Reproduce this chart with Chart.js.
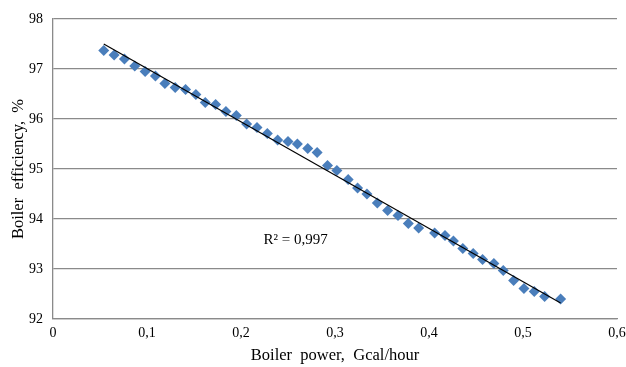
<!DOCTYPE html>
<html>
<head>
<meta charset="utf-8">
<script src="https://cdn.jsdelivr.net/npm/chart.js@4"></script>
<style>
  html, body { margin: 0; padding: 0; background: #fff; }
  #wrap { width: 626px; height: 367px; }
</style>
</head>
<body>
<div id="wrap"><canvas id="chart"></canvas></div>
<script>
// boiler power, Gcal/hour
const power = [0.054, 0.065, 0.076, 0.087, 0.098, 0.109, 0.119, 0.130, 0.141, 0.152,
  0.162, 0.173, 0.184, 0.195, 0.206, 0.217, 0.228, 0.239, 0.250, 0.260,
  0.271, 0.281, 0.292, 0.302, 0.314, 0.324, 0.334, 0.345, 0.356, 0.367,
  0.378, 0.389, 0.406, 0.417, 0.426, 0.436, 0.447, 0.457, 0.469, 0.479,
  0.490, 0.501, 0.512, 0.523, 0.540];
// boiler efficiency, %
const efficiency = [97.37, 97.28, 97.20, 97.06, 96.95, 96.86, 96.71, 96.63, 96.59, 96.49,
  96.33, 96.29, 96.15, 96.07, 95.90, 95.83, 95.71, 95.58, 95.55, 95.50,
  95.41, 95.33, 95.07, 94.97, 94.79, 94.62, 94.50, 94.32, 94.17, 94.07,
  93.91, 93.82, 93.72, 93.67, 93.56, 93.41, 93.31, 93.19, 93.11, 92.97,
  92.77, 92.61, 92.55, 92.45, 92.40];
const xTicks = [0, 0.1, 0.2, 0.3, 0.4, 0.5, 0.6];
const yTicks = [92, 93, 94, 95, 96, 97, 98];
const r2Label = 'R² = 0,997';

const points = power.map((p, i) => ({ x: p, y: efficiency[i] }));

// linear trend line (least squares)
const n = power.length;
const mx = power.reduce((a, b) => a + b, 0) / n;
const my = efficiency.reduce((a, b) => a + b, 0) / n;
let sxy = 0, sxx = 0;
for (let i = 0; i < n; i++) {
  sxy += (power[i] - mx) * (efficiency[i] - my);
  sxx += (power[i] - mx) ** 2;
}
const slope = sxy / sxx;
const icpt = my - slope * mx;
const xmin = Math.min(...power), xmax = Math.max(...power);
const trend = [
  { x: xmin, y: icpt + slope * xmin },
  { x: xmax, y: icpt + slope * xmax }
];

const serif = "'Liberation Serif', 'Times New Roman', serif";

const r2Plugin = {
  id: 'r2',
  afterDatasetsDraw(chart) {
    const { ctx, scales } = chart;
    ctx.save();
    ctx.font = '15px ' + serif;
    ctx.fillStyle = '#000';
    ctx.textAlign = 'center';
    ctx.textBaseline = 'middle';
    ctx.fillText(r2Label, scales.x.getPixelForValue(0.258), scales.y.getPixelForValue(93.58));
    ctx.restore();
  }
};

new Chart(document.getElementById('chart'), {
  type: 'scatter',
  data: {
    datasets: [{
      label: 'trend',
      type: 'line',
      data: trend,
      borderColor: '#000',
      borderWidth: 1.2,
      pointRadius: 0,
      fill: false,
      order: 0
    }, {
      label: 'efficiency',
      data: points,
      pointStyle: 'rectRot',
      pointRadius: 5.5,
      backgroundColor: '#4a7ebb',
      borderColor: '#4a7ebb',
      borderWidth: 0,
      order: 1
    }]
  },
  options: {
    responsive: true,
    maintainAspectRatio: false,
    animation: false,
    layout: { padding: { top: 19, right: 9, left: 0, bottom: 0 } },
    plugins: {
      legend: { display: false },
      tooltip: { enabled: false }
    },
    scales: {
      x: {
        type: 'linear',
        min: 0,
        max: 0.6,
        afterBuildTicks: s => { s.ticks = xTicks.map(v => ({ value: v })); },
        afterFit: s => { s.height = 48; s.paddingLeft = 0; s.paddingRight = 0; },
        grid: { display: false, drawTicks: false },
        border: { display: true, color: '#8a8a8a', width: 1.3 },
        ticks: {
          padding: 6,
          color: '#000',
          font: { family: serif, size: 14 },
          callback: v => String(Math.round(v * 10) / 10).replace('.', ',')
        },
        title: {
          display: true,
          text: 'Boiler  power,  Gcal/hour',
          color: '#000',
          font: { family: serif, size: 16.5 },
          padding: { top: 0, bottom: 1 }
        }
      },
      y: {
        min: 92,
        max: 98,
        afterBuildTicks: s => { s.ticks = yTicks.map(v => ({ value: v })); },
        afterFit: s => { s.width = 53; },
        grid: { color: '#8a8a8a', lineWidth: 1.3, drawTicks: false },
        border: { display: true, color: '#8a8a8a', width: 1.3 },
        ticks: {
          padding: 10,
          color: '#000',
          font: { family: serif, size: 14 }
        },
        title: {
          display: true,
          text: 'Boiler  efficiency,  %',
          color: '#000',
          font: { family: serif, size: 16.5 },
          padding: { top: 9, bottom: 0 }
        }
      }
    }
  },
  plugins: [r2Plugin]
});
</script>
</body>
</html>
